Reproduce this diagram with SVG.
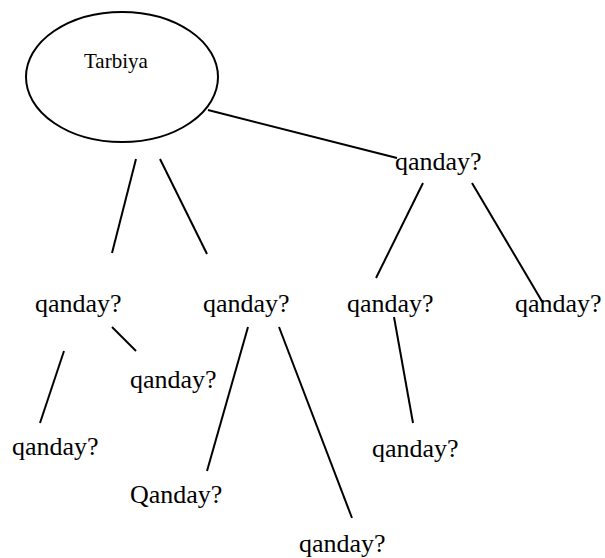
<svg xmlns="http://www.w3.org/2000/svg" width="605" height="558" viewBox="0 0 605 558">
<style>
text{font-family:"Liberation Serif","Times New Roman",serif;fill:#000}
.q{font-size:26px}
.t{font-size:21px}
.c line{stroke:#000;stroke-width:2;fill:none}
</style>
<rect width="605" height="558" fill="#fff"/>
<g id="connectors" class="c">
<line x1="208" y1="110" x2="397" y2="158"/>
<line x1="136" y1="159" x2="112" y2="253"/>
<line x1="160" y1="159" x2="207" y2="254"/>
<line x1="423" y1="183" x2="376" y2="278"/>
<line x1="472" y1="183" x2="543" y2="303"/>
<line x1="112" y1="327" x2="136" y2="351"/>
<line x1="64" y1="351" x2="40" y2="423"/>
<line x1="248" y1="327" x2="207" y2="471"/>
<line x1="279" y1="327" x2="352" y2="518"/>
<line x1="394" y1="317" x2="413" y2="423"/>
</g>
<g id="n-tarbiya">
<ellipse cx="122" cy="77" rx="96" ry="65" fill="none" stroke="#000" stroke-width="2"/>
<text class="t" x="84" y="68">Tarbiya</text>
</g>
<g id="n1"><text class="q" x="395" y="170">qanday?</text></g>
<g id="n2"><text class="q" x="35" y="312">qanday?</text></g>
<g id="n3"><text class="q" x="203" y="312">qanday?</text></g>
<g id="n4"><text class="q" x="347" y="312">qanday?</text></g>
<g id="n5"><text class="q" x="515" y="312">qanday?</text></g>
<g id="n6"><text class="q" x="130" y="388">qanday?</text></g>
<g id="n7"><text class="q" x="12" y="455">qanday?</text></g>
<g id="n8"><text class="q" x="372" y="457">qanday?</text></g>
<g id="n9"><text class="q" x="130" y="503">Qanday?</text></g>
<g id="n10"><text class="q" x="299" y="552">qanday?</text></g>
</svg>
